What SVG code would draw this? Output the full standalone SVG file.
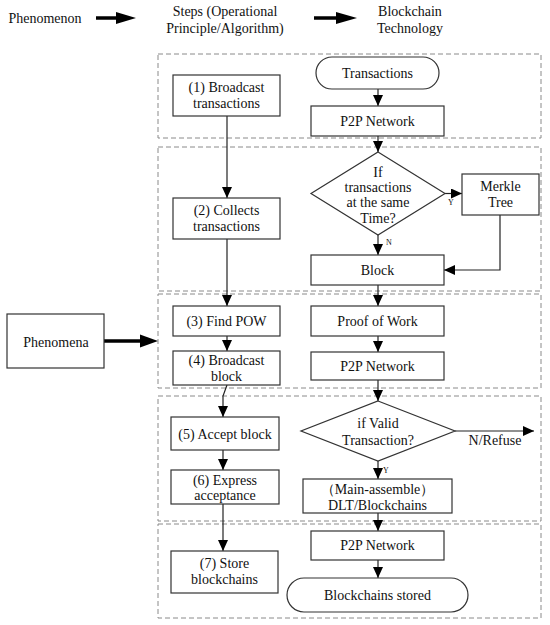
<svg xmlns="http://www.w3.org/2000/svg" width="550" height="625" viewBox="0 0 550 625">
<style>
text{font-family:"Liberation Serif","Times New Roman",serif;font-size:14px;fill:#111;text-anchor:middle}
.sm{font-size:8px}
.hd{font-size:14px}
.box{fill:#fff;stroke:#333;stroke-width:1.2}
.grp{fill:none;stroke:#8a8a8a;stroke-width:1;stroke-dasharray:5 3}
.con{fill:none;stroke:#222;stroke-width:1.2;marker-end:url(#ah)}
.thick{fill:none;stroke:#000;stroke-width:3.5}
</style>
<defs>
<marker id="ah" markerUnits="userSpaceOnUse" markerWidth="11" markerHeight="10" refX="11" refY="5" orient="auto">
<path d="M0,0 L11,5 L0,10 z" fill="#000"/>
</marker>
</defs>
<rect width="550" height="625" fill="#fff"/>

<g id="header">
<text x="45" y="23">Phenomenon</text>
<text x="225" y="16">Steps (Operational</text>
<text x="225" y="33">Principle/Algorithm)</text>
<text x="410" y="16">Blockchain</text>
<text x="410" y="33">Technology</text>
<line class="thick" x1="96" y1="18" x2="118" y2="18"/>
<polygon points="116,12 136,18 116,24" fill="#000"/>
<line class="thick" x1="314" y1="18" x2="338" y2="18"/>
<polygon points="336,12 357,18 336,24" fill="#000"/>
</g>

<g id="groups">
<rect class="grp" x="158" y="54" width="383" height="84"/>
<rect class="grp" x="158" y="147" width="383" height="144"/>
<rect class="grp" x="158" y="294" width="383" height="94"/>
<rect class="grp" x="158" y="396" width="383" height="125"/>
<rect class="grp" x="158" y="524" width="383" height="94"/>
</g>

<g id="connectors">
<line class="con" x1="378" y1="89" x2="378" y2="106"/>
<line class="con" x1="378" y1="136" x2="378" y2="152"/>
<line class="con" x1="445" y1="193.5" x2="462" y2="193.5"/>
<line class="con" x1="378" y1="235" x2="378" y2="255"/>
<polyline class="con" points="500,215 500,270 444,270"/>
<line class="con" x1="378" y1="285" x2="378" y2="306"/>
<line class="con" x1="378" y1="336" x2="378" y2="352"/>
<line class="con" x1="378" y1="380" x2="378" y2="401"/>
<line class="con" x1="455" y1="431" x2="534" y2="431"/>
<line class="con" x1="378" y1="461" x2="378" y2="479"/>
<line class="con" x1="378" y1="513" x2="378" y2="531"/>
<line class="con" x1="378" y1="560" x2="378" y2="578"/>
<line class="con" x1="227" y1="116" x2="227" y2="198"/>
<line class="con" x1="227" y1="239" x2="227" y2="306"/>
<line class="con" x1="227" y1="336" x2="227" y2="351"/>
<polyline class="con" points="227,385 223,396 223,417"/>
<line class="con" x1="223" y1="450" x2="223" y2="470"/>
<line class="con" x1="223" y1="504" x2="223" y2="551"/>
<line class="thick" x1="104" y1="341" x2="142" y2="341"/>
<polygon points="140,334.5 158,341 140,347.5" fill="#000"/>
<text class="sm" x="451" y="205">Y</text>
<text class="sm" x="389" y="245">N</text>
<text class="sm" x="386" y="473">Y</text>
<text x="495" y="445">N/Refuse</text>
</g>

<g id="n-phenomena">
<rect class="box" x="7" y="314" width="97" height="54"/>
<text x="56" y="347">Phenomena</text>
</g>

<g id="n-step1">
<rect class="box" x="173" y="75" width="107" height="41"/>
<text x="226.5" y="92">(1) Broadcast</text>
<text x="226.5" y="108">transactions</text>
</g>
<g id="n-step2">
<rect class="box" x="173" y="198" width="107" height="41"/>
<text x="226.5" y="215">(2) Collects</text>
<text x="226.5" y="231">transactions</text>
</g>
<g id="n-step3">
<rect class="box" x="173" y="306" width="107" height="30"/>
<text x="226.5" y="326">(3) Find POW</text>
</g>
<g id="n-step4">
<rect class="box" x="173" y="351" width="107" height="34"/>
<text x="226.5" y="365">(4) Broadcast</text>
<text x="226.5" y="381">block</text>
</g>
<g id="n-step5">
<rect class="box" x="171" y="417" width="108" height="33"/>
<text x="225" y="439">(5) Accept block</text>
</g>
<g id="n-step6">
<rect class="box" x="171" y="470" width="108" height="34"/>
<text x="225" y="485">(6) Express</text>
<text x="225" y="500">acceptance</text>
</g>
<g id="n-step7">
<rect class="box" x="171" y="551" width="107" height="42"/>
<text x="224.5" y="568">(7) Store</text>
<text x="224.5" y="584">blockchains</text>
</g>

<g id="n-transactions">
<rect class="box" x="316" y="57" width="123" height="32" rx="16" ry="16"/>
<text x="377.5" y="78">Transactions</text>
</g>
<g id="n-p2p1">
<rect class="box" x="311" y="106" width="133" height="30"/>
<text x="377.5" y="126">P2P Network</text>
</g>
<g id="n-decision1">
<polygon class="box" points="378,152 445,193.5 378,235 311,193.5"/>
<text x="378" y="177">If</text>
<text x="378" y="192">transactions</text>
<text x="378" y="207">at the same</text>
<text x="378" y="223">Time?</text>
</g>
<g id="n-merkle">
<rect class="box" x="462" y="174" width="77" height="41"/>
<text x="500.5" y="191">Merkle</text>
<text x="500.5" y="207">Tree</text>
</g>
<g id="n-block">
<rect class="box" x="311" y="255" width="133" height="30"/>
<text x="377.5" y="275">Block</text>
</g>
<g id="n-pow">
<rect class="box" x="311" y="306" width="133" height="30"/>
<text x="377.5" y="326">Proof of Work</text>
</g>
<g id="n-p2p2">
<rect class="box" x="311" y="352" width="133" height="28"/>
<text x="377.5" y="371">P2P Network</text>
</g>
<g id="n-decision2">
<polygon class="box" points="378,401 455,431 378,461 301,431"/>
<text x="378" y="428">if Valid</text>
<text x="378" y="445">Transaction?</text>
</g>
<g id="n-main">
<rect class="box" x="303" y="479" width="149" height="34"/>
<text x="377.5" y="494">（Main-assemble）</text>
<text x="377.5" y="510">DLT/Blockchains</text>
</g>
<g id="n-p2p3">
<rect class="box" x="311" y="531" width="133" height="29"/>
<text x="377.5" y="550">P2P Network</text>
</g>
<g id="n-stored">
<rect class="box" x="287" y="578" width="181" height="34" rx="17" ry="17"/>
<text x="377.5" y="600">Blockchains stored</text>
</g>
</svg>
